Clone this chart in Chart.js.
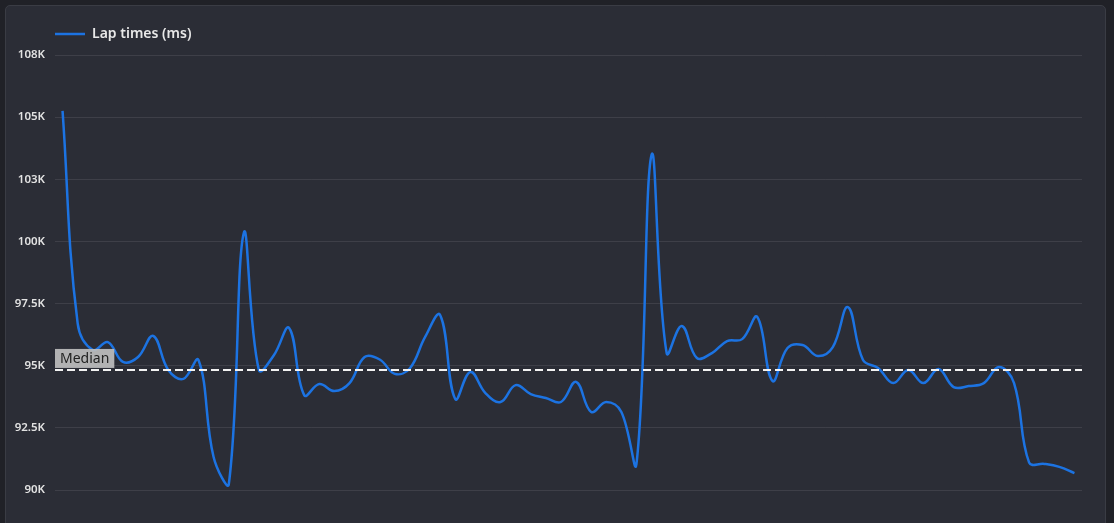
<!DOCTYPE html>
<html>
<head>
<meta charset="utf-8">
<script src="https://cdn.jsdelivr.net/npm/chart.js@4.4.1/dist/chart.umd.min.js"></script>
<style>
  html, body { margin: 0; padding: 0; background: #202127; width: 1114px; height: 523px; overflow: hidden; }
  .panel { position: absolute; left: 5px; top: 5px; width: 1099px; height: 540px; background: #2b2d36; border: 1px solid #3a3c44; border-radius: 5px; }
  #c { position: absolute; left: 0; top: 0; }
</style>
</head>
<body>
<div class="panel"></div>
<canvas id="c" width="1114" height="523"></canvas>
<script>
// ---- data ----
const seriesLabel = 'Lap times (ms)';
const lapTimes = [
  105250, 96700, 95630, 95950, 95150, 95350, 96200, 94830, 94470, 95230,
  91330, 90200, 100340, 94830, 95430, 96520, 93820, 94260, 93980, 94300,
  95350, 95250, 94670, 94900, 96150, 97040, 93660, 94750, 93900, 93540,
  94220, 93860, 93700, 93540, 94350, 93140, 93540, 93140, 91050, 103480,
  95510, 96600, 95310, 95510, 95990, 96070, 96960, 94390, 95710, 95830,
  95390, 95750, 97360, 95230, 94910, 94300, 94830, 94300, 94870, 94140,
  94180, 94300, 94950, 94300, 91100, 91050, 90930, 90680
];
const laps = lapTimes.map((_, i) => String(i + 1));
const yTickLabels = ['90K', '92.5K', '95K', '97.5K', '100K', '103K', '105K', '108K'];
const medianLabel = 'Median';

function median(arr) {
  const s = [...arr].sort((a, b) => a - b);
  const m = Math.floor(s.length / 2);
  return s.length % 2 ? s[m] : (s[m - 1] + s[m]) / 2;
}
const medianValue = median(lapTimes);

const FONT = "'Noto Sans', 'Open Sans', sans-serif";

const legendShift = {
  id: 'legendShift',
  afterLayout(chart) {
    const lg = chart.legend;
    if (!lg) return;
    lg.left = 45;
    lg.top -= 4;
    lg.bottom -= 4;
  }
};

const medianPlugin = {
  id: 'medianLine',
  afterDatasetsDraw(chart) {
    const { ctx, chartArea, scales } = chart;
    const y = scales.y.getPixelForValue(medianValue);
    ctx.save();
    ctx.strokeStyle = '#f2f2f2';
    ctx.lineWidth = 2;
    ctx.setLineDash([8, 4]);
    ctx.beginPath();
    ctx.moveTo(chartArea.left, y);
    ctx.lineTo(chartArea.right, y);
    ctx.stroke();
    ctx.setLineDash([]);
    ctx.font = '14px ' + FONT;
    const tw = ctx.measureText(medianLabel).width;
    const padX = 5, h = 19;
    ctx.fillStyle = 'rgba(190,190,190,0.92)';
    ctx.fillRect(chartArea.left, y - 2 - h, tw + padX * 2, h);
    ctx.fillStyle = '#222';
    ctx.textBaseline = 'middle';
    ctx.textAlign = 'left';
    ctx.fillText(medianLabel, chartArea.left + padX, y - 2 - h / 2 + 0.5);
    ctx.restore();
  }
};

new Chart(document.getElementById('c'), {
  type: 'line',
  data: {
    labels: laps,
    datasets: [{
      label: seriesLabel,
      data: lapTimes,
      borderColor: '#1c73e2',
      backgroundColor: '#1c73e2',
      borderWidth: 2.5,
      tension: 0.4,
      pointRadius: 0,
      pointHoverRadius: 0,
      fill: false
    }]
  },
  options: {
    responsive: false,
    animation: false,
    devicePixelRatio: 1,
    layout: { padding: { left: 0, right: 32, top: 21, bottom: 33 } },
    plugins: {
      legend: {
        display: true,
        position: 'top',
        align: 'start',
        labels: {
          usePointStyle: true,
          pointStyle: 'line',
          pointStyleWidth: 30,
          padding: 10,
          color: '#e8e8e8',
          font: { family: FONT, size: 14, weight: '600' }
        }
      },
      tooltip: { enabled: false }
    },
    scales: {
      x: {
        type: 'category',
        offset: true,
        display: false
      },
      y: {
        min: 90000,
        max: 107500,
        border: { display: false },
        grid: { color: 'rgba(255,255,255,0.09)', drawTicks: false },
        ticks: {
          stepSize: 2500,
          padding: 10,
          color: '#e2e2e2',
          font: { family: FONT, size: 11.5, weight: '600' },
          callback: (v, i) => yTickLabels[i]
        },
        afterFit(scale) { scale.width = 55; }
      }
    }
  },
  plugins: [legendShift, medianPlugin]
});
</script>
</body>
</html>
